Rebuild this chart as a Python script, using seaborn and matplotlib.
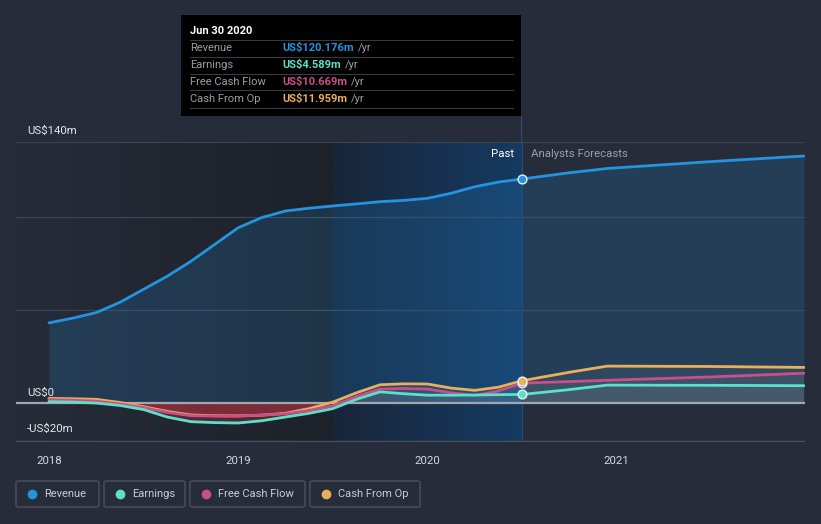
import numpy as np
import pandas as pd
import matplotlib
matplotlib.use("Agg")
import matplotlib.pyplot as plt
import seaborn as sns
from matplotlib.patches import FancyBboxPatch
from matplotlib.colors import LinearSegmentedColormap

# ---------------- data (US$ m, decimal years) ----------------
past_years = [2018.0, 2018.125, 2018.25, 2018.375, 2018.5, 2018.625, 2018.75, 2018.875,
              2019.0, 2019.125, 2019.25, 2019.375, 2019.5, 2019.625, 2019.75, 2019.875,
              2020.0, 2020.125, 2020.25, 2020.375, 2020.5]
revenue_past = [43, 45.5, 48.5, 54, 61, 68, 76, 85, 94, 99.5, 103, 104.5, 105.7, 106.8,
                108, 108.7, 109.8, 112.5, 116, 118.5, 120.176]
earnings_past = [0.7, 0.5, 0, -1.3, -3.5, -7.5, -10, -10.5, -10.7, -9.5, -7.5, -5.5, -3,
                 2, 6, 5, 4.2, 4.2, 4.3, 4.5, 4.589]
fcf_past = [1.8, 1.5, 1, -0.5, -2.5, -5, -6.8, -7, -7, -6.5, -5.8, -4, -1.5, 3.5, 7.5,
            7.8, 7.5, 5.5, 4, 6.5, 10.669]
cfo_past = [2.5, 2.3, 2, 0.3, -2, -4.5, -6.4, -6.8, -6.9, -6.5, -5.5, -3, 0.5, 5.5, 9.8,
            10.3, 10.2, 8, 6.8, 8.5, 11.959]

fc_years = [2020.5, 2020.75, 2020.95, 2021.5, 2021.99]
revenue_fc = [120.176, 123.5, 125.8, 129.5, 132.5]
earnings_fc = [4.589, 7.2, 9.6, 9.5, 9.3]
fcf_fc = [10.669, 11.5, 12.2, 14, 16]
cfo_fc = [11.959, 16.5, 19.8, 19.6, 19.1]

series_names = ["Revenue", "Earnings", "Free Cash Flow", "Cash From Op"]
series_colors = ["#2394df", "#5ce0c8", "#c94f8a", "#e8b05a"]
tooltip_values = ["US$120.176m", "US$4.589m", "US$10.669m", "US$11.959m"]
year_ticks = [2018, 2019, 2020, 2021]
y_labels = {140: "US$140m", 0: "US$0", -20: "-US$20m"}

# ---------------- style ----------------
sns.set_theme(style="dark")
plt.rcParams["font.family"] = ["Roboto", "DejaVu Sans"]
BG = "#262c3a"

fig = plt.figure(figsize=(8.21, 5.24), dpi=100, facecolor=BG)
ax = fig.add_axes([16 / 821, 1 - 442 / 524, (805 - 16) / 821, (442 - 142) / 524])
ax.set_facecolor(BG)
XMIN, XMAX = 2017.826, 2021.995
YMIN, YMAX = -20.9, 140

# background regions
grad = np.linspace(0, 1, 256).reshape(1, -1)
cm_left = LinearSegmentedColormap.from_list("l", ["#262c39", "#1d2129"])
cm_past = LinearSegmentedColormap.from_list("p", ["#19263a", "#163a62"])
ax.imshow(grad, extent=[XMIN, 2019.5, YMIN, YMAX], aspect="auto", cmap=cm_left, zorder=0)
ax.imshow(grad, extent=[2019.5, 2020.5, YMIN, YMAX], aspect="auto", cmap=cm_past, zorder=0)
ax.set_xlim(XMIN, XMAX)
ax.set_ylim(YMIN, YMAX)

# gridlines
for g in [50, 100, 140]:
    ax.axhline(g, color="#3b4252", lw=0.9, zorder=1)
ax.axhline(0, color="#a3a6ad", lw=1.6, zorder=4)
ax.axhline(YMIN + 0.3, color="#4a505c", lw=1.0, zorder=4)

# data frame for seaborn
rows = []
for name, pv, fv in zip(series_names,
                        [revenue_past, earnings_past, fcf_past, cfo_past],
                        [revenue_fc, earnings_fc, fcf_fc, cfo_fc]):
    for x, v in zip(past_years, pv):
        rows.append((name, x, v, "past"))
    for x, v in zip(fc_years[1:], fv[1:]):
        rows.append((name, x, v, "fc"))
df = pd.DataFrame(rows, columns=["series", "year", "value", "phase"])

# fills
rev = df[df.series == "Revenue"]
ax.fill_between(rev.year, rev.value, 0, color="#2394df", alpha=0.18, lw=0, zorder=2)
for name in series_names[1:]:
    d = df[df.series == name]
    v = d.value.values
    ax.fill_between(d.year, v, 0, where=v >= 0, interpolate=True,
                    color="#c8ccd6", alpha=0.07, lw=0, zorder=2)
    ax.fill_between(d.year, v, 0, where=v < 0, interpolate=True,
                    color="#8e2f3c", alpha=0.45, lw=0, zorder=2)

# lines
for name, col in zip(series_names[::-1], series_colors[::-1]):
    d = df[df.series == name]
    sns.lineplot(data=d, x="year", y="value", ax=ax, color=col, lw=2.0,
                 solid_capstyle="round", solid_joinstyle="round", zorder=5,
                 estimator=None, sort=True)

# markers at Jun 30 2020
for name, col in zip(series_names, series_colors):
    d = df[(df.series == name) & (df.year == 2020.5)]
    ax.scatter(d.year, d.value, s=40, color=col, edgecolor="#e8eef8", lw=1.0, zorder=7)

# divider line
ax.axvline(2020.5, color="#244d78", lw=0.9, zorder=3)

ax.set_xticks(year_ticks)
ax.set_xticklabels([str(y) for y in year_ticks], color="#d6d8dc", fontsize=8.2)
ax.tick_params(axis="x", length=4, color="#4a505c", pad=6)
ax.set_yticks([])
ax.set_xlabel("")
ax.set_ylabel("")
for s in ax.spines.values():
    s.set_visible(False)

# y labels inside
ax.text(2017.885, 143.2, y_labels[140], color="#e6e8ec", fontsize=8.2, va="bottom", ha="left")
ax.text(2017.885, 2.6, y_labels[0], color="#e6e8ec", fontsize=8.2, va="bottom", ha="left")
ax.text(2017.885, -14.0, y_labels[-20], color="#e6e8ec", fontsize=8.2, va="center", ha="left")

ax.text(2020.46, 133.5, "Past", color="#ffffff", fontsize=8.2, ha="right", va="center")
ax.text(2020.545, 133.5, "Analysts Forecasts", color="#9aa0a8", fontsize=8.2, ha="left", va="center")

# tooltip
W, H = 821, 524
def fx(px): return px / W
def fy(py): return 1 - py / H
fig.patches.append(FancyBboxPatch((fx(181), fy(116)), fx(521) - fx(181), fy(15) - fy(116),
                                  boxstyle="square,pad=0", transform=fig.transFigure,
                                  facecolor="#000000", edgecolor="none", zorder=10))
fig.add_artist(plt.Line2D([fx(521), fx(521)], [fy(116), fy(142)], color="#244d78", lw=0.9,
                          transform=fig.transFigure))
fig.text(fx(190), fy(31), "Jun 30 2020", color="#ffffff", fontsize=8, fontweight="bold",
         va="center", ha="left", zorder=11)
for i, (name, col, val) in enumerate(zip(series_names, series_colors, tooltip_values)):
    yy = 48 + 17 * i
    fig.add_artist(plt.Line2D([fx(190), fx(513)], [fy(yy - 8.5), fy(yy - 8.5)],
                              color="#3a3a3a", lw=0.8, transform=fig.transFigure, zorder=11))
    fig.text(fx(190), fy(yy), name, color="#9a9ea6", fontsize=8, va="center", ha="left", zorder=11)
    t = fig.text(fx(282), fy(yy), val, color=col, fontsize=8, fontweight="bold",
                 va="center", ha="left", zorder=11)
    fig.canvas.draw()
    bb = t.get_window_extent()
    fig.text(bb.x1 / W + fx(4), fy(yy), "/yr", color="#9a9ea6", fontsize=8,
             va="center", ha="left", zorder=11)
fig.add_artist(plt.Line2D([fx(190), fx(513)], [fy(108.5), fy(108.5)],
                          color="#3a3a3a", lw=0.8, transform=fig.transFigure, zorder=11))

# legend boxes
boxes = [(16, 99), (104, 185), (190, 305), (310, 420)]
for (x0, x1), name, col in zip(boxes, series_names, series_colors):
    fig.patches.append(FancyBboxPatch((fx(x0), fy(507)), fx(x1) - fx(x0), fy(481) - fy(507),
                                      boxstyle="round,pad=0,rounding_size=0.003",
                                      transform=fig.transFigure, facecolor="none",
                                      edgecolor="#4a505c", lw=1.0))
    fig.add_artist(plt.Line2D([fx(x0 + 16)], [fy(494)], marker="o", markersize=6,
                              color=col, transform=fig.transFigure, lw=0))
    fig.text(fx(x0 + 28), fy(494), name, color="#c8ccd2", fontsize=8, va="center", ha="left")

fig.savefig("out.png", dpi=100, facecolor=BG)
